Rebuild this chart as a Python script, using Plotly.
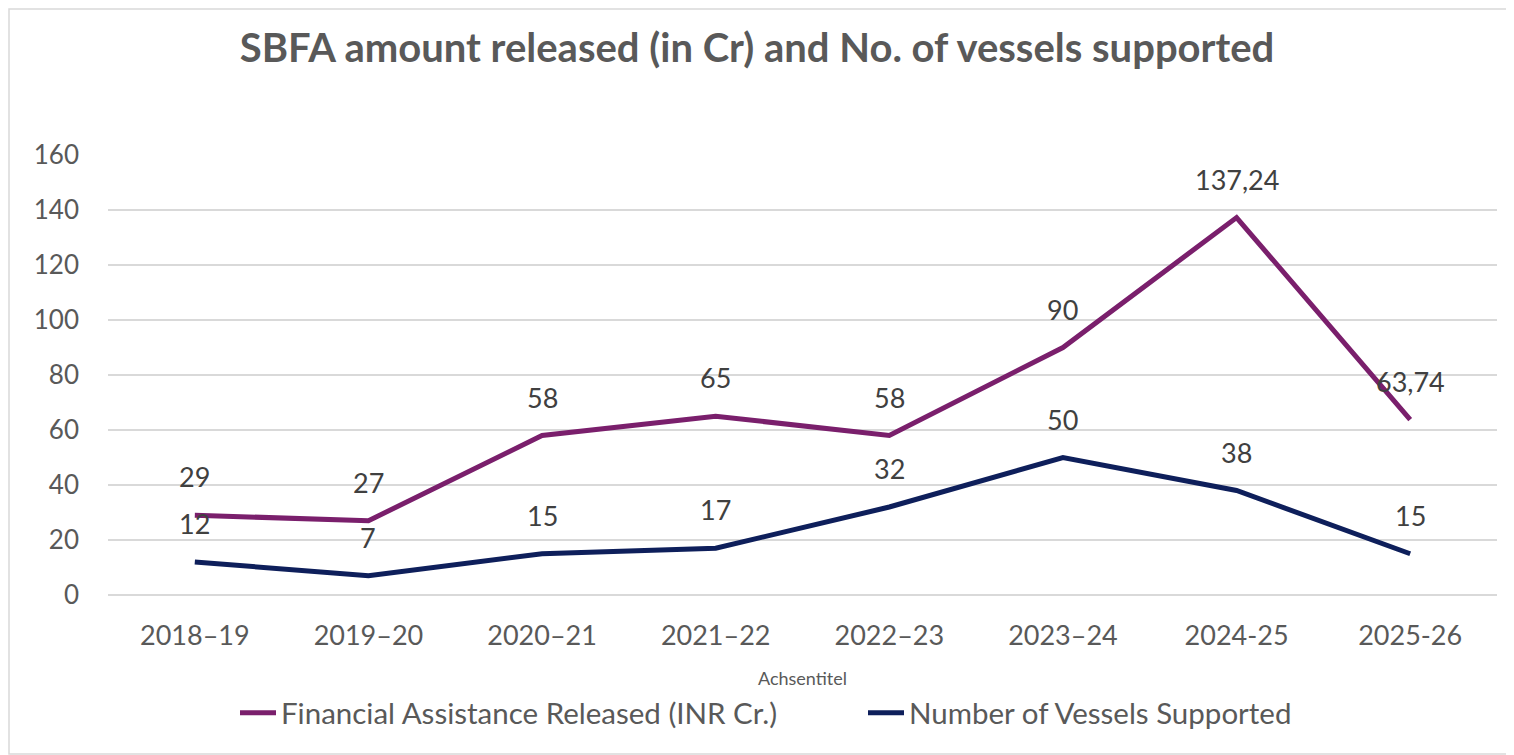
import plotly.graph_objects as go

categories = ["2018–19", "2019–20", "2020–21", "2021–22", "2022–23", "2023–24", "2024-25", "2025-26"]
financial = [29, 27, 58, 65, 58, 90, 137.24, 63.74]
vessels = [12, 7, 15, 17, 32, 50, 38, 15]
financial_labels = ["29", "27", "58", "65", "58", "90", "137,24", "63,74"]
vessels_labels = ["12", "7", "15", "17", "32", "50", "38", "15"]
y_ticks = [0, 20, 40, 60, 80, 100, 120, 140, 160]

PURPLE = "#7A1F6C"
NAVY = "#0E1F5B"
FONT = "Lato, Open Sans, sans-serif"

OFF = 8  # page body margin
W, H = 1514 - OFF, 755 - OFF
ml, mt = 108 - OFF, 155 - OFF
pw, ph = 1389, 440
mr, mb = W - ml - pw, H - mt - ph

fig = go.Figure()
fig.add_trace(go.Scatter(x=categories, y=financial, mode="lines",
                         name="Financial Assistance Released (INR Cr.)",
                         line=dict(color=PURPLE, width=5), legend="legend"))
fig.add_trace(go.Scatter(x=categories, y=vessels, mode="lines",
                         name="Number of Vessels Supported",
                         line=dict(color=NAVY, width=5), legend="legend2"))

for vals, labs in ((financial, financial_labels), (vessels, vessels_labels)):
    for c, v, t in zip(categories, vals, labs):
        fig.add_annotation(x=c, y=v, text=t, showarrow=False, yanchor="bottom",
                           yshift=20, font=dict(family=FONT, size=27, color="#404040"))

# chart border
fig.add_shape(type="rect", xref="paper", yref="paper",
              x0=(1 - ml) / pw, x1=(W - 3 - ml) / pw,
              y0=(mt + ph - (H - 1)) / ph, y1=(mt + ph - 1) / ph,
              line=dict(color="#D9D9D9", width=1.5), fillcolor="rgba(0,0,0,0)", layer="below")

leg_y = (mt + ph - (713 - OFF)) / ph
leg_common = dict(orientation="h", xanchor="left", y=leg_y, yanchor="middle",
                  font=dict(family=FONT, size=29.5, color="#595959"), itemwidth=36,
                  bgcolor="rgba(0,0,0,0)")

fig.update_layout(
    width=W, height=H,
    margin=dict(l=ml, r=mr, t=mt, b=mb),
    paper_bgcolor="white", plot_bgcolor="white",
    title=dict(text="<b>SBFA amount released (in Cr) and No. of vessels supported</b>",
               x=(757 - OFF) / W, xanchor="center", y=1 - (48 - OFF) / H, yanchor="middle",
               font=dict(family=FONT, size=40, color="#595959")),
    showlegend=True,
    legend=dict(x=(235 - 108) / pw, **leg_common),
    legend2=dict(x=(863 - 108) / pw, **leg_common),
    xaxis=dict(type="category", range=[-0.5, 7.5], showgrid=False, showline=False, ticks="",
               ticklabelstandoff=22,
               tickfont=dict(family=FONT, size=27, color="#595959"),
               title=dict(text="Achsentitel", standoff=22,
                          font=dict(family=FONT, size=18, color="#595959"))),
    yaxis=dict(range=[0, 160], tickvals=y_ticks, showgrid=True, gridcolor="#D9D9D9", gridwidth=1.5,
               zeroline=True, zerolinecolor="#D9D9D9", zerolinewidth=1.5, showline=False,
               ticks="", ticklabelstandoff=28,
               tickfont=dict(family=FONT, size=26, color="#595959")),
)

fig.write_html("out.html")
